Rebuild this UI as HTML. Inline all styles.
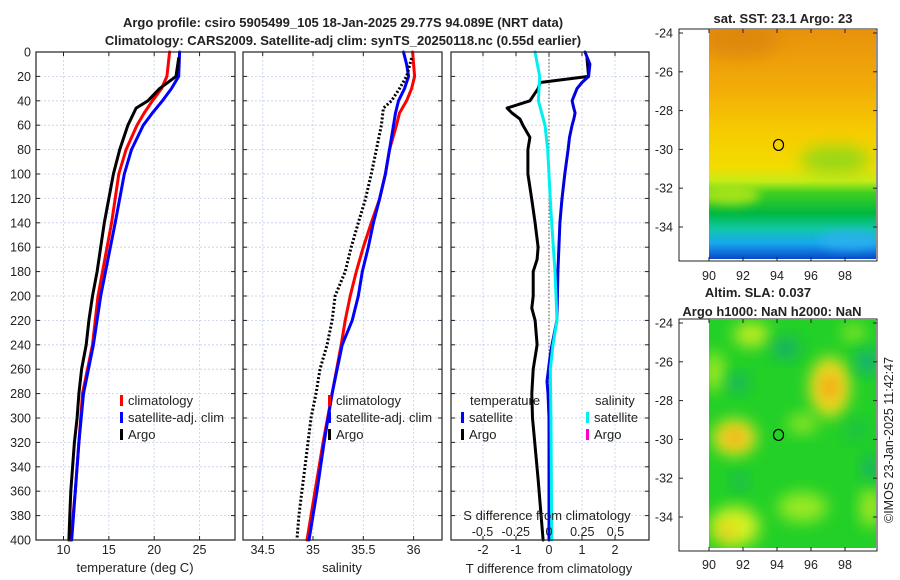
<!DOCTYPE html>
<html><head><meta charset="utf-8">
<style>
html,body{margin:0;padding:0;background:#fff;}
svg{display:block;font-family:"Liberation Sans","DejaVu Sans",sans-serif;}
</style></head>
<body>
<svg id="fig" width="900" height="580" viewBox="0 0 900 580" xmlns="http://www.w3.org/2000/svg">
<defs>
<linearGradient id="sstGrad" x1="0" y1="0" x2="0" y2="1">
<stop offset="0" stop-color="#e8920c"/>
<stop offset="0.25" stop-color="#f2ac08"/>
<stop offset="0.45" stop-color="#f6cc00"/>
<stop offset="0.6" stop-color="#f2dc00"/>
<stop offset="0.66" stop-color="#c6ec18"/>
<stop offset="0.71" stop-color="#40d020"/>
<stop offset="0.8" stop-color="#00b840"/>
<stop offset="0.87" stop-color="#10c8a8"/>
<stop offset="0.93" stop-color="#18a8f0"/>
<stop offset="1" stop-color="#0a48c8"/>
</linearGradient>
<filter id="blur8" x="-50%" y="-50%" width="200%" height="200%"><feGaussianBlur stdDeviation="8"/></filter>
<filter id="blur5" x="-50%" y="-50%" width="200%" height="200%"><feGaussianBlur stdDeviation="5"/></filter>
<clipPath id="clipTop"><rect x="709" y="30" width="167" height="229"/></clipPath>
<clipPath id="clipBot"><rect x="709" y="320" width="167" height="228"/></clipPath>
</defs>
<g id="root"></g>
</svg>
<script>
// ---------- data ----------
const depthTicks = [0,20,40,60,80,100,120,140,160,180,200,220,240,260,280,300,320,340,360,380,400];
const tempTicks = [10,15,20,25];
const salTicks = [34.5,35,35.5,36];
const tdiffTicks = [-2,-1,0,1,2];
const sdiffTicks = [-0.5,-0.25,0,0.25,0.5];
const sdiffTickLabels = ["-0.5","-0.25","0","0.25","0.5"];

const climDepth = [0,20,30,40,50,60,80,100,140,200,240,280,320,360,400];
const climTemp  = [21.7,21.4,20.8,19.8,18.9,18.1,16.9,16.1,15.3,13.8,13.2,12.1,11.7,11.3,10.8];
const satTemp   = [22.8,22.7,21.9,20.9,19.8,18.8,17.5,16.7,15.7,14.1,13.3,12.2,11.7,11.3,10.9];
const argoDepth = [5,20,30,40,46,60,80,100,140,160,180,200,220,240,260,280,300,320,340,360,380,400];
const argoTemp  = [22.7,22.4,20.6,19.3,18.0,17.1,16.2,15.5,14.5,14.1,13.7,13.2,12.8,12.5,12.0,11.7,11.5,11.2,11.0,10.8,10.7,10.6];

const salDepth = [0,10,20,30,40,50,60,80,100,121,140,160,180,200,220,240,280,320,360,400];
const climSal = [35.99,36.0,36.01,35.98,35.93,35.86,35.83,35.76,35.72,35.66,35.58,35.5,35.43,35.37,35.32,35.28,35.19,35.1,35.02,34.94];
const satSal  = [35.90,35.93,35.95,35.91,35.85,35.82,35.80,35.76,35.72,35.66,35.6,35.55,35.49,35.45,35.39,35.29,35.19,35.11,35.04,34.96];
const argoSalDepth = [5,20,30,40,46,60,100,121,140,160,180,200,220,240,260,280,300,320,340,360,380,400];
const argoSal = [35.98,35.93,35.86,35.78,35.70,35.68,35.58,35.52,35.45,35.38,35.32,35.22,35.19,35.14,35.07,35.03,34.98,34.95,34.92,34.89,34.86,34.84];

const diffDepth = [0,10,20,25,30,40,46,50,55,60,70,80,100,121,140,180,220,240,250,270,280,300,350,400];
const satTdiff  = [1.09,1.24,1.2,1.0,0.85,0.7,0.75,0.79,0.75,0.7,0.62,0.58,0.48,0.39,0.33,0.27,0.24,0.09,0.03,-0.06,-0.03,0.0,0.0,0.0];
const argoTdiffDepth = [5,20,25,30,40,46,50,55,60,70,80,100,121,140,160,170,180,200,210,220,240,260,280,300,350,400];
const argoTdiff = [1.15,1.2,-0.27,-0.33,-0.58,-1.27,-1.12,-0.88,-0.79,-0.58,-0.64,-0.64,-0.52,-0.42,-0.33,-0.36,-0.48,-0.48,-0.52,-0.42,-0.36,-0.48,-0.52,-0.5,-0.33,-0.18];
const sdDepth = [0,20,40,60,80,121,140,180,220,240,260,300,400];
const satSdiff = [-0.105,-0.07,-0.08,-0.03,-0.01,0.01,0.02,0.045,0.06,0.03,0.01,0.015,0.02];

const latTicks = [-24,-26,-28,-30,-32,-34];
const lonTicks = [90,92,94,96,98];
const argoLon = 94.089, argoLat = -29.77;

// ---------- helpers ----------
const NS = "http://www.w3.org/2000/svg";
const root = document.getElementById("root");
function mk(tag, attrs, parent, txt){
  const e = document.createElementNS(NS, tag);
  for (const k in attrs) e.setAttribute(k, attrs[k]);
  if (txt !== undefined) e.textContent = txt;
  (parent||root).appendChild(e);
  return e;
}
const Y0 = 52, Y1 = 540;
const yD = d => Y0 + d * (Y1 - Y0) / 400;
const P1 = {x0:36,x1:235}, P2 = {x0:243,x1:442}, P3 = {x0:451,x1:649};
const xT = t => 63.5 + (t - 10) * 9.07;
const xS = s => 313 + (s - 35) * 100.6;
const xTd = v => 549 + v * 33;
const xSd = v => 549 + v * 133;

function panelFrame(P, name){
  const g = mk("g", {});
  
  
  depthTicks.forEach(d => {
    const l = mk("line", {x1:P.x0, x2:P.x1, y1:yD(d), y2:yD(d), stroke:"#c4cdee", "stroke-width":0.8, "stroke-dasharray":"2,2"}, g);
    
    
    mk("line", {x1:P.x0, x2:P.x0+4, y1:yD(d), y2:yD(d), stroke:"#222", "stroke-width":1}, g);
    mk("line", {x1:P.x1, x2:P.x1-4, y1:yD(d), y2:yD(d), stroke:"#222", "stroke-width":1}, g);
  });
  return g;
}
function vgrid(g, vals, fx){
  vals.forEach(v => {
    const l = mk("line", {x1:fx(v), x2:fx(v), y1:Y0, y2:Y1, stroke:"#c4cdee", "stroke-width":0.8, "stroke-dasharray":"2,2"}, g);
    
    
    mk("line", {x1:fx(v), x2:fx(v), y1:Y1, y2:Y1-4, stroke:"#222"}, g);
    mk("line", {x1:fx(v), x2:fx(v), y1:Y0, y2:Y0+4, stroke:"#222"}, g);
  });
}
function border(g, P, name){
  const r = mk("rect", {x:P.x0, y:Y0, width:P.x1-P.x0, height:Y1-Y0, fill:"none", stroke:"#222", "stroke-width":1.2}, g);
  
  
}
function line(g, xs, ys, fx, color, name, w, dash){
  const pts = xs.map((v,i) => fx(v).toFixed(1) + "," + yD(ys[i]).toFixed(1)).join(" ");
  const a = {points:pts, fill:"none", stroke:color, "stroke-width":w||3, "stroke-linejoin":"round", "stroke-linecap":"round"};
  if (dash) { a["stroke-dasharray"] = dash; a["stroke-linecap"] = "butt"; }
  const p = mk("polyline", a, g);
  
  
  return p;
}
function text(x, y, s, opts, name){
  const a = {x:x, y:y, "font-size":(opts&&opts.size)||12.5, fill:"#222", "text-anchor":(opts&&opts.anchor)||"middle"};
  if (opts && opts.bold) a["font-weight"] = "bold";
  if (opts && opts.transform) a.transform = opts.transform;
  const t = mk("text", a, (opts&&opts.parent)||root, s);
  
  
  return t;
}
function legendEntry(g, x, y, color, label, name){
  const r = mk("rect", {x:x, y:y-10, width:3, height:11, fill:color}, g);
  
  
  text(x+8, y, label, {anchor:"start", parent:g, size:13}, name);
}

// ---------- titles ----------
text(343, 27, "Argo profile: csiro 5905499_105 18-Jan-2025 29.77S 94.089E (NRT data)", {bold:true, size:13}, 'title-line-1');
text(343, 45, "Climatology: CARS2009. Satellite-adj clim: synTS_20250118.nc (0.55d earlier)", {bold:true, size:13}, 'title-line-2');

depthTicks.forEach(d => text(31, yD(d)+4.5, String(d), {anchor:"end"}, 'depth-tick-label'));

// ---------- panel 1 ----------
const g1 = panelFrame(P1, 'temperature-panel');
vgrid(g1, tempTicks, xT);
line(g1, climTemp, climDepth, xT, "#ff0000", 'climatology-temperature-line');
line(g1, satTemp, climDepth, xT, "#0000ff", 'satellite-temperature-line');
line(g1, argoTemp, argoDepth, xT, "#000000", 'argo-temperature-line');
border(g1, P1, 'temperature-axes-box');
tempTicks.forEach(t => text(xT(t), 554, String(t), {}, 'temperature-tick-label'));
text(135, 572, "temperature (deg C)", {size:13}, 'temperature-axis-title');
legendEntry(g1, 120, 405, "#ff0000", "climatology", 'legend-climatology');
legendEntry(g1, 120, 422, "#0000ff", "satellite-adj. clim", 'legend-satellite-adj');
legendEntry(g1, 120, 439, "#000000", "Argo", 'legend-argo');

// ---------- panel 2 ----------
const g2 = panelFrame(P2, 'salinity-panel');
vgrid(g2, salTicks, xS);
line(g2, climSal, salDepth, xS, "#ff0000", 'climatology-salinity-line');
line(g2, satSal, salDepth, xS, "#0000ff", 'satellite-salinity-line');
line(g2, argoSal, argoSalDepth, xS, "#000000", 'argo-salinity-line', 3, "2,2");
border(g2, P2, 'salinity-axes-box');
salTicks.forEach(t => text(xS(t), 554, String(t), {}, 'salinity-tick-label'));
text(342, 572, "salinity", {size:13}, 'salinity-axis-title');
const g2l = mk("g", {});  
legendEntry(g2l, 328, 405, "#ff0000", "climatology", 'legend-climatology-2');
legendEntry(g2l, 328, 422, "#0000ff", "satellite-adj. clim", 'legend-satellite-adj-2');
legendEntry(g2l, 328, 439, "#000000", "Argo", 'legend-argo-2');

// ---------- panel 3 ----------
const g3 = panelFrame(P3, 'difference-panel');
vgrid(g3, tdiffTicks, xTd);
const zl = mk("line", {x1:549, x2:549, y1:Y0, y2:Y1, stroke:"#5a5030", "stroke-width":1, "stroke-dasharray":"1.5,2"}, g3);
 
line(g3, argoTdiff, argoTdiffDepth, xTd, "#000000", 'argo-temperature-difference-line');
line(g3, satTdiff, diffDepth, xTd, "#0000e0", 'satellite-temperature-difference-line');
line(g3, satSdiff, sdDepth, xSd, "#00f0f0", 'satellite-salinity-difference-line');
border(g3, P3, 'difference-axes-box');
tdiffTicks.forEach(t => text(xTd(t), 554, String(t), {}, 'tdiff-tick-label'));
text(549, 573, "T difference from climatology", {size:13}, 'tdiff-axis-title');
text(547, 520, "S difference from climatology", {size:13, parent:g3}, 'sdiff-axis-title');
sdiffTicks.forEach((t,i) => text(xSd(t), 536, sdiffTickLabels[i], {parent:g3}, 'sdiff-tick-label'));
text(470, 405, "temperature", {anchor:"start", size:13, parent:g3}, 'legend-temperature-heading');
legendEntry(g3, 461, 422, "#0000ff", "satellite", 'legend-temp-satellite');
legendEntry(g3, 461, 439, "#000000", "Argo", 'legend-temp-argo');
text(595, 405, "salinity", {anchor:"start", size:13, parent:g3}, 'legend-salinity-heading');
legendEntry(g3, 586, 422, "#00f0f0", "satellite", 'legend-sal-satellite');
legendEntry(g3, 586, 439, "#ff00cc", "Argo", 'legend-sal-argo');

// ---------- maps ----------
const lonX = lon => 709 + (lon - 90) * 17.0;
function mapAxes(top, name){
  const g = mk("g", {});
  
  
  const latY = lat => top + 4 + (-24 - lat) * 19.4;
  return {g, latY};
}
const mt = mapAxes(29, 'sst-map');
const gT = mt.g;
const imgT = mk("g", {"clip-path":"url(#clipTop)"}, gT);
mk("rect", {x:709, y:30, width:167, height:229, fill:"url(#sstGrad)"}, imgT);
mk("ellipse", {cx:740, cy:40, rx:40, ry:18, fill:"#d8800c", opacity:0.6, filter:"url(#blur8)"}, imgT);
mk("ellipse", {cx:835, cy:160, rx:35, ry:14, fill:"#70d820", opacity:0.7, filter:"url(#blur8)"}, imgT);
mk("ellipse", {cx:730, cy:195, rx:30, ry:10, fill:"#c0e818", opacity:0.8, filter:"url(#blur5)"}, imgT);
mk("ellipse", {cx:850, cy:240, rx:30, ry:10, fill:"#30b0f0", opacity:0.7, filter:"url(#blur5)"}, imgT);
mk("rect", {x:679, y:29, width:198, height:232, fill:"none", stroke:"#222", "stroke-width":1}, gT);
latTicks.forEach(l => {
  text(673, mt.latY(l)+4.5, String(l), {anchor:"end", parent:gT}, 'sst-lat-tick-label');
  mk("line", {x1:679, x2:683, y1:mt.latY(l), y2:mt.latY(l), stroke:"#222"}, gT);
  mk("line", {x1:877, x2:873, y1:mt.latY(l), y2:mt.latY(l), stroke:"#222"}, gT);
});
lonTicks.forEach(l => {
  text(lonX(l), 280, String(l), {parent:gT}, 'sst-lon-tick-label');
  mk("line", {x1:lonX(l), x2:lonX(l), y1:261, y2:257, stroke:"#222"}, gT);
  mk("line", {x1:lonX(l), x2:lonX(l), y1:29, y2:33, stroke:"#222"}, gT);
});
const cT = mk("ellipse", {cx:lonX(argoLon), cy:mt.latY(argoLat), rx:5, ry:5.5, fill:"none", stroke:"#000", "stroke-width":1.2}, gT);
 
text(783, 23, "sat. SST: 23.1 Argo: 23", {bold:true, size:13}, 'sst-map-title');

const mb = mapAxes(319, 'sla-map');
const gB = mb.g;
const imgB = mk("g", {"clip-path":"url(#clipBot)"}, gB);
mk("rect", {x:709, y:320, width:167, height:228, fill:"#22d028"}, imgB);
const blobs = [
 [97.1,-27.3,20,30,"#f0e020",1],[97.1,-27.3,10,15,"#f0a018",0.9],
 [91.5,-29.9,22,18,"#f0e020",1],[91.5,-29.9,10,8,"#f09a18",0.9],
 [92.5,-24.6,18,12,"#d8f020",0.9],[90.3,-26.5,10,20,"#c8f020",0.8],
 [91.5,-34.5,25,20,"#d8f020",1],[91.0,-34.8,8,8,"#f0b818",0.8],
 [95.5,-33.5,25,15,"#b8f020",0.8],[99.5,-33.5,10,20,"#d0f020",0.8],
 [95.5,-29.2,15,10,"#c0f020",0.7],[98.5,-24.5,12,8,"#c8f020",0.7],
 [91.7,-27.1,10,8,"#18a878",0.9],[94.5,-25.3,14,10,"#18a878",0.9],
 [99.3,-26.0,10,12,"#18a888",1],[99.5,-31.5,8,12,"#18a878",0.9],
 [91.8,-32.2,7,8,"#18a878",0.8],[98.7,-29.5,10,10,"#18b060",0.6]
];
blobs.forEach(b => mk("ellipse", {cx:lonX(b[0]), cy:mb.latY(b[1]), rx:b[2], ry:b[3], fill:b[4], opacity:b[5], filter:"url(#blur8)"}, imgB));
mk("rect", {x:679, y:319, width:198, height:232, fill:"none", stroke:"#222", "stroke-width":1}, gB);
latTicks.forEach(l => {
  text(673, mb.latY(l)+4.5, String(l), {anchor:"end", parent:gB}, 'sla-lat-tick-label');
  mk("line", {x1:679, x2:683, y1:mb.latY(l), y2:mb.latY(l), stroke:"#222"}, gB);
  mk("line", {x1:877, x2:873, y1:mb.latY(l), y2:mb.latY(l), stroke:"#222"}, gB);
});
lonTicks.forEach(l => {
  text(lonX(l), 569, String(l), {parent:gB}, 'sla-lon-tick-label');
  mk("line", {x1:lonX(l), x2:lonX(l), y1:551, y2:547, stroke:"#222"}, gB);
  mk("line", {x1:lonX(l), x2:lonX(l), y1:319, y2:323, stroke:"#222"}, gB);
});
const cB = mk("ellipse", {cx:lonX(argoLon), cy:mb.latY(argoLat), rx:5, ry:5.5, fill:"none", stroke:"#000", "stroke-width":1.2}, gB);
 
text(758, 297, "Altim. SLA: 0.037", {bold:true, size:13}, 'sla-map-title-1');
text(772, 316, "Argo h1000: NaN h2000: NaN", {bold:true, size:13}, 'sla-map-title-2');
text(0, 0, "©IMOS 23-Jan-2025 11:42:47", {size:12.5, transform:"translate(893,440) rotate(-90)"}, 'copyright-timestamp');
</script>
</body></html>
